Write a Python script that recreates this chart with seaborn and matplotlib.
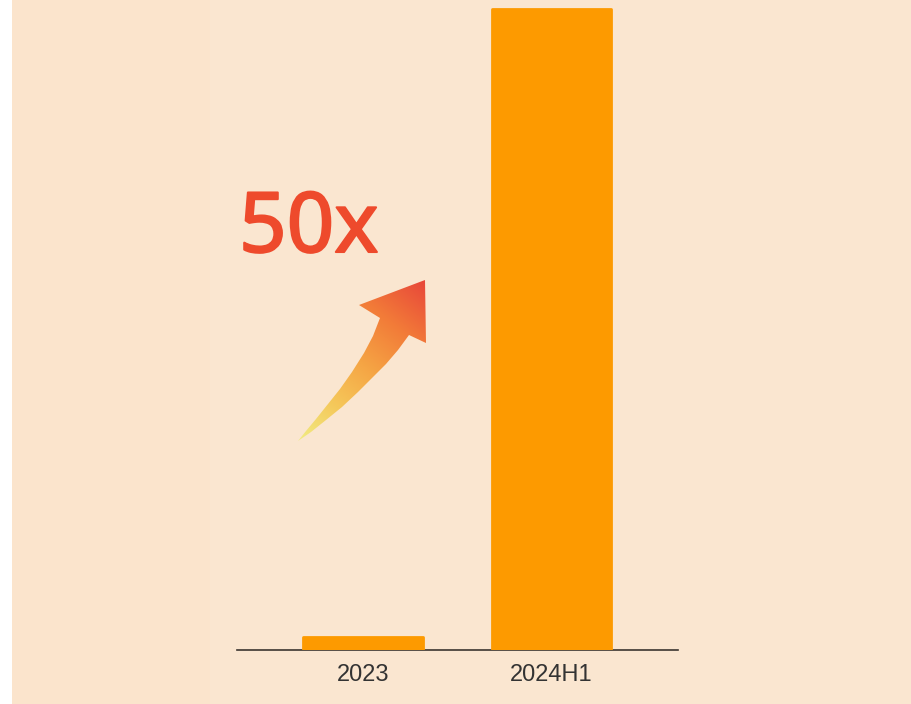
import numpy as np
import matplotlib
matplotlib.use("Agg")
import matplotlib.pyplot as plt
import matplotlib.patheffects as pe
from matplotlib.patches import Polygon, Rectangle
from matplotlib.colors import LinearSegmentedColormap
import seaborn as sns

# Data
periods = ["2023", "2024H1"]
values = [1, 50]
growth_label = "50x"

BAR_COLOR = "#FD9A00"
BG_RIGHT = "#FAE6D0"
BG_LEFT = "#FBE4CC"
TEXT_RED = "#EE4A2C"

sns.set_theme(style="white")
plt.rcParams["font.family"] = ["Liberation Sans", "DejaVu Sans"]

W, H = 912, 704
fig = plt.figure(figsize=(W / 100, H / 100), dpi=100, facecolor=BG_RIGHT)

# background panels (white margin on the far left, slightly warmer left block)
fig.patches.append(Rectangle((0, 0), 12 / W, 1, transform=fig.transFigure,
                             facecolor="white", edgecolor="none", zorder=0))
fig.patches.append(Rectangle((12 / W, 0), (210 - 12) / W, 1, transform=fig.transFigure,
                             facecolor=BG_LEFT, edgecolor="none", zorder=0))

# main axes: baseline at y=650 px, spanning x=237..678 px
ax = fig.add_axes([237 / W, (H - 650) / H, 441 / W, 650 / H])
ax.set_facecolor("none")

sns.barplot(x=periods, y=values, color=BAR_COLOR, saturation=1, width=0.632, ax=ax, zorder=3)
for p in ax.patches:
    p.set_edgecolor(BAR_COLOR)
    p.set_linewidth(2)
    p.set_joinstyle("round")

ax.set_xlim(-0.668, 1.671)
ax.set_ylim(0, 50.74)
ax.set_yticks([])
ax.set_xlabel("")
ax.set_ylabel("")
for side in ["top", "left", "right"]:
    ax.spines[side].set_visible(False)
ax.spines["bottom"].set_color("#3a3530")
ax.spines["bottom"].set_linewidth(1.2)
ax.spines["bottom"].set_zorder(2)
ax.tick_params(axis="x", length=0, pad=10, labelsize=17, labelcolor="#333333")

# decoration layer in pixel coordinates
deco = fig.add_axes([0, 0, 1, 1], zorder=5)
deco.set_xlim(0, W)
deco.set_ylim(H, 0)
deco.axis("off")
deco.set_facecolor("none")

# curved upward arrow with a yellow-to-red gradient
arrow_pts = [
    (298, 441), (306, 431), (316, 419), (328, 404), (340, 389), (352, 372),
    (364, 353), (373, 336), (380, 318),
    (359, 305), (425, 280), (426, 343), (409, 335),
    (398, 350), (386, 364), (373, 377), (358, 392), (342, 407), (326, 420),
    (311, 432), (298, 441),
]
arrow = Polygon(arrow_pts, closed=True, facecolor="none", edgecolor="none")
deco.add_patch(arrow)

x0, x1, y0, y1 = 290, 430, 275, 445
gx, gy = np.meshgrid(np.linspace(x0, x1, 300), np.linspace(y0, y1, 300))
tail = np.array([298.0, 441.0])
tip = np.array([425.0, 282.0])
d = tip - tail
t = ((gx - tail[0]) * d[0] + (gy - tail[1]) * d[1]) / (d @ d)
t = np.clip(t, 0, 1)
cmap = LinearSegmentedColormap.from_list(
    "rise", [(0.0, "#F1EC84"), (0.25, "#F5C85A"), (0.5, "#F5A444"),
             (0.75, "#F27A38"), (1.0, "#E8483A")])
img = deco.imshow(t, extent=(x0, x1, y1, y0), cmap=cmap, vmin=0, vmax=1,
                  interpolation="bilinear", zorder=6, aspect="auto")
img.set_clip_path(arrow)
deco.set_xlim(0, W)
deco.set_ylim(H, 0)

# growth multiple label, thickened with a same-colour outline
deco.text(239, 252, growth_label, ha="left", va="baseline", fontsize=60,
          color=TEXT_RED, family=["Noto Sans", "DejaVu Sans"], zorder=7,
          path_effects=[pe.withStroke(linewidth=1.5, foreground=TEXT_RED)])

fig.savefig("out.png", dpi=100, facecolor=BG_RIGHT)
